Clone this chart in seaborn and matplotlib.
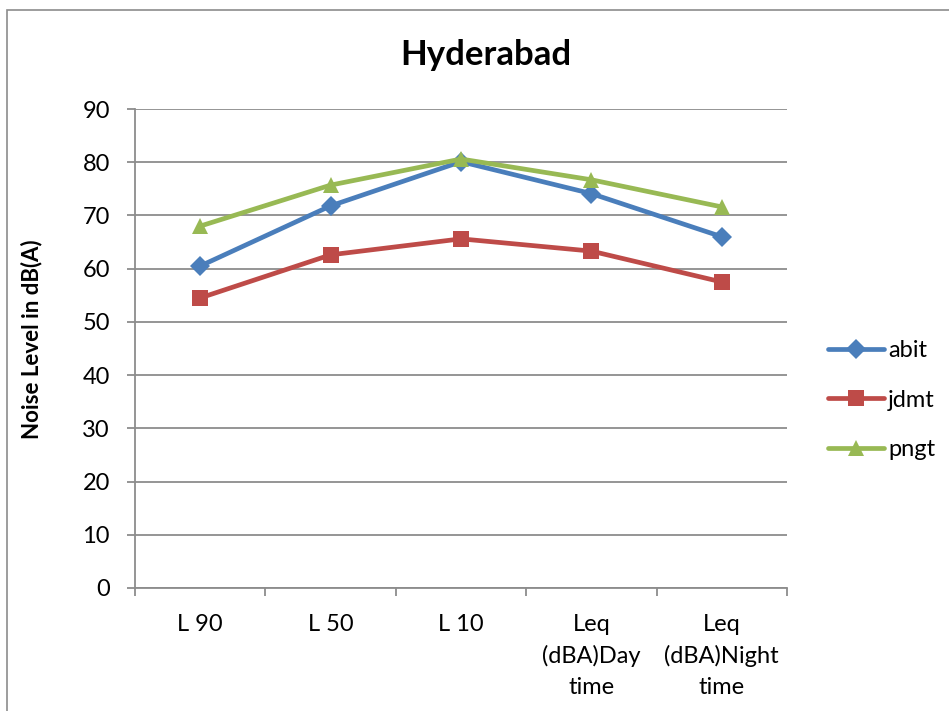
import matplotlib
matplotlib.use("Agg")
import matplotlib.pyplot as plt
import seaborn as sns
import pandas as pd
from matplotlib.patches import Rectangle
from matplotlib.ticker import FixedLocator

categories = ["L 90", "L 50", "L 10", "Leq\n(dBA)Day\ntime", "Leq\n(dBA)Night\ntime"]
abit = [60.5, 71.8, 80.1, 74.1, 66.0]
jdmt = [54.5, 62.6, 65.6, 63.3, 57.5]
pngt = [68.0, 75.7, 80.6, 76.7, 71.6]
series_names = ["abit", "jdmt", "pngt"]
colors = ["#4A7EBB", "#BE4B48", "#98B954"]
markers = ["D", "s", "^"]
msizes = [10, 12, 12]

rows = []
for name, vals in zip(series_names, [abit, jdmt, pngt]):
    for i, v in enumerate(vals):
        rows.append({"cat": i, "label": categories[i], "series": name, "value": v})
df = pd.DataFrame(rows)

sns.set_theme(style="white")
plt.rcParams['font.family'] = ['Lato', 'DejaVu Sans']

fig = plt.figure(figsize=(9.49, 7.11), dpi=100)
ax = fig.add_axes([135/949, 1-588/711, (787-135)/949, (588-109)/711])

for name, c, m, ms in zip(series_names, colors, markers, msizes):
    sub = df[df.series == name]
    sns.lineplot(data=sub, x="cat", y="value", ax=ax, color=c, linewidth=3.4,
                 marker=m, markersize=ms, markeredgewidth=0, label=name)

ax.set_xlim(-0.5, 4.5)
ax.set_ylim(0, 90)
ax.set_yticks(range(0, 91, 10))
ax.yaxis.grid(True, color="#8C8C8C", linewidth=1.3)
ax.set_axisbelow(True)
for s in ["top", "right"]:
    ax.spines[s].set_visible(False)
for s in ["left", "bottom"]:
    ax.spines[s].set_color("#8C8C8C")
    ax.spines[s].set_linewidth(1.3)

ax.set_xticks(range(5))
ax.set_xticklabels(categories, fontsize=17, color="#000000", linespacing=1.55)
ax.xaxis.set_minor_locator(FixedLocator([-0.5, 0.5, 1.5, 2.5, 3.5, 4.5]))
ax.tick_params(axis="x", which="major", length=0, pad=19)
ax.tick_params(axis="x", which="minor", length=6, width=1.3, color="#8C8C8C", direction="out", bottom=True)
ax.tick_params(axis="y", which="major", length=6, width=1.3, color="#8C8C8C", direction="out", left=True, labelsize=17, pad=12)
for t in ax.get_yticklabels():
    t.set_color("#000000")

ax.set_xlabel("")
ax.set_ylabel("")
fig.text(32/949, 1-339/711, "Noise Level in dB(A)", rotation=90, fontsize=16, fontweight="bold",
         color="#000000", ha="center", va="center")
fig.text(486/949, 1-55/711, "Hyderabad", fontsize=25, fontweight="bold", color="#000000",
         ha="center", va="center")

leg = ax.legend(loc="center left", bbox_to_anchor=(1.03, 0.392), frameon=False,
                fontsize=17, handlelength=2.4, labelspacing=1.2, handletextpad=0.15)
for t in leg.get_texts():
    t.set_color("#000000")

fig.patches.append(Rectangle((7/949, -0.1), 1.2, 1-10/711+0.1, transform=fig.transFigure,
                             fill=False, edgecolor="#8C8C8C", linewidth=1.2, zorder=-1))

fig.savefig("out.png", dpi=100, facecolor="white")
